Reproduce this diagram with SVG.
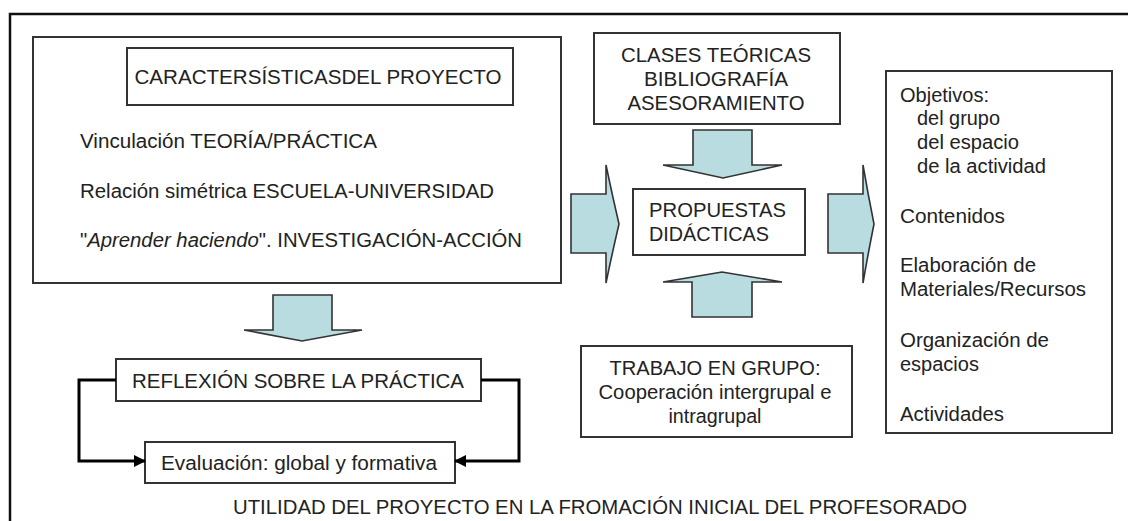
<svg xmlns="http://www.w3.org/2000/svg" width="1128" height="521" viewBox="0 0 1128 521">
<style>
.box{fill:#fff;stroke:#333;stroke-width:2}
.blk{fill:#b8dce0;stroke:#333;stroke-width:1.6;stroke-linejoin:miter}
.t{font-family:"Liberation Sans",Arial,sans-serif;font-size:20px;fill:#222}
.c{text-anchor:middle}
.con{fill:none;stroke:#000;stroke-width:3}
</style>
<defs>
<marker id="ah" markerUnits="userSpaceOnUse" markerWidth="12" markerHeight="12" refX="11" refY="6" orient="auto">
<path d="M0,0 L12,6 L0,12 Z" fill="#000"/>
</marker>
</defs>
<rect width="1128" height="521" fill="#fff"/>
<g id="frame">
<path d="M10,521 V14 H1128" fill="none" stroke="#111" stroke-width="2.5"/>
</g>
<g id="caracteristicas">
<rect class="box" x="33" y="37" width="528" height="246"/>
<rect class="box" x="127" y="48" width="386" height="57"/>
<text class="t c" x="318" y="84" font-size="22" textLength="367" lengthAdjust="spacingAndGlyphs">CARACTERSÍSTICASDEL PROYECTO</text>
<text class="t" x="80" y="148" textLength="297" lengthAdjust="spacingAndGlyphs">Vinculación TEORÍA/PRÁCTICA</text>
<text class="t" x="80" y="198" textLength="414" lengthAdjust="spacingAndGlyphs">Relación simétrica ESCUELA-UNIVERSIDAD</text>
<text class="t" x="80" y="247" textLength="442" lengthAdjust="spacingAndGlyphs">"<tspan font-style="italic">Aprender haciendo</tspan>". INVESTIGACIÓN-ACCIÓN</text>
</g>
<g id="clases">
<rect class="box" x="594" y="33" width="246" height="91"/>
<text class="t c" x="716" y="62" textLength="190" lengthAdjust="spacingAndGlyphs">CLASES TEÓRICAS</text>
<text class="t c" x="716" y="86" textLength="144" lengthAdjust="spacingAndGlyphs">BIBLIOGRAFÍA</text>
<text class="t c" x="716" y="110" textLength="177" lengthAdjust="spacingAndGlyphs">ASESORAMIENTO</text>
</g>
<g id="propuestas">
<rect class="box" x="633" y="189" width="172" height="66"/>
<text class="t" x="649" y="217" textLength="137" lengthAdjust="spacingAndGlyphs">PROPUESTAS</text>
<text class="t" x="649" y="241" textLength="120" lengthAdjust="spacingAndGlyphs">DIDÁCTICAS</text>
</g>
<g id="trabajo">
<rect class="box" x="581" y="346" width="271" height="91"/>
<text class="t c" x="715" y="375" textLength="211" lengthAdjust="spacingAndGlyphs">TRABAJO EN GRUPO:</text>
<text class="t c" x="715" y="399" textLength="233" lengthAdjust="spacingAndGlyphs">Cooperación intergrupal e</text>
<text class="t c" x="715" y="423" textLength="93" lengthAdjust="spacingAndGlyphs">intragrupal</text>
</g>
<g id="resultados">
<rect class="box" x="886" y="71" width="226" height="362"/>
<text class="t" x="900" y="102" textLength="89" lengthAdjust="spacingAndGlyphs">Objetivos:</text>
<text class="t" x="917" y="125" textLength="83" lengthAdjust="spacingAndGlyphs">del grupo</text>
<text class="t" x="917" y="149" textLength="102" lengthAdjust="spacingAndGlyphs">del espacio</text>
<text class="t" x="917" y="173" textLength="129" lengthAdjust="spacingAndGlyphs">de la actividad</text>
<text class="t" x="900" y="223" textLength="105" lengthAdjust="spacingAndGlyphs">Contenidos</text>
<text class="t" x="900" y="272" textLength="136" lengthAdjust="spacingAndGlyphs">Elaboración de</text>
<text class="t" x="900" y="296" textLength="186" lengthAdjust="spacingAndGlyphs">Materiales/Recursos</text>
<text class="t" x="900" y="347" textLength="149" lengthAdjust="spacingAndGlyphs">Organización de</text>
<text class="t" x="900" y="371">espacios</text>
<text class="t" x="900" y="421" textLength="104" lengthAdjust="spacingAndGlyphs">Actividades</text>
</g>
<g id="reflexion">
<rect class="box" x="116" y="359" width="365" height="42"/>
<text class="t c" x="298" y="388" textLength="332" lengthAdjust="spacingAndGlyphs">REFLEXIÓN SOBRE LA PRÁCTICA</text>
</g>
<g id="evaluacion">
<rect class="box" x="145" y="442" width="310" height="41"/>
<text class="t c" x="299" y="470" font-size="19" textLength="276" lengthAdjust="spacingAndGlyphs">Evaluación: global y formativa</text>
</g>
<g id="titulo">
<text class="t c" x="600" y="514" font-size="19" textLength="734" lengthAdjust="spacingAndGlyphs">UTILIDAD DEL PROYECTO EN LA FROMACIÓN INICIAL DEL PROFESORADO</text>
</g>
<g id="connectors">
<path class="blk" d="M693,130 H752 V165 H782 L723,178 L663,165 H693 Z"/>
<path class="blk" d="M571,194 H606 V165 Q612,194 619,224 Q612,254 606,283 V253 H571 Z"/>
<path class="blk" d="M828,194 H863 V165 Q868,194 874,224 Q868,254 863,283 V253 H828 Z"/>
<path class="blk" d="M692,317 H752 V282 H782 L722,272 L663,282 H692 Z"/>
<path class="blk" d="M273,295 H332 V330 H362 L302,341 L244,330 H273 Z"/>
<path class="con" d="M116,380 H79 V461 H145" marker-end="url(#ah)"/>
<path class="con" d="M481,380 H519 V461 H455" marker-end="url(#ah)"/>
</g>
</svg>
